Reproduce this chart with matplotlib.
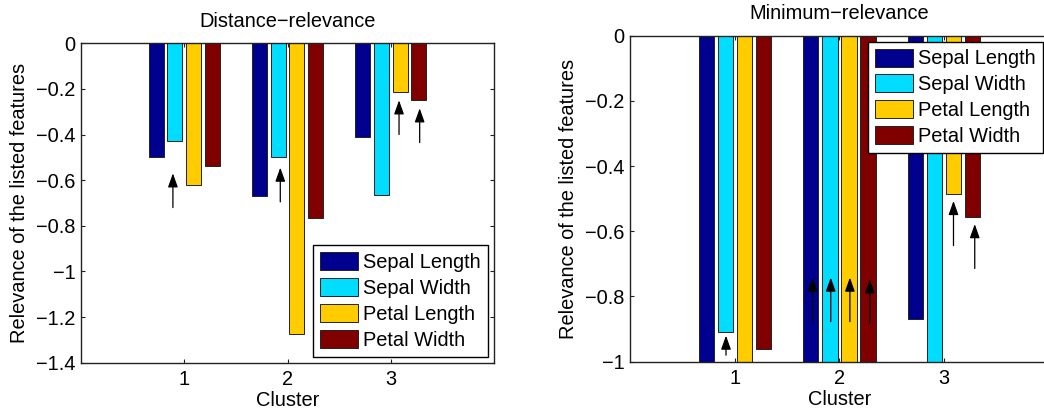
import numpy as np
import matplotlib
matplotlib.use("Agg")
import matplotlib.pyplot as plt

plt.rcParams["font.family"] = ["Liberation Sans", "DejaVu Sans"]
plt.rcParams["axes.unicode_minus"] = True

clusters = [1, 2, 3]
features = ["Sepal Length", "Sepal Width", "Petal Length", "Petal Width"]
colors = ["#00008F", "#00DDFF", "#FFCC00", "#800000"]

# Distance-relevance per cluster (rows: features)
dist_sepal_length = [-0.50, -0.67, -0.41]
dist_sepal_width = [-0.43, -0.50, -0.665]
dist_petal_length = [-0.62, -1.275, -0.215]
dist_petal_width = [-0.54, -0.765, -0.247]

# Minimum-relevance per cluster (values below -1 run off the axis)
min_sepal_length = [-1.0, -1.0, -0.87]
min_sepal_width = [-0.91, -1.0, -1.0]
min_petal_length = [-1.0, -1.0, -0.485]
min_petal_width = [-0.96, -1.0, -0.557]

# Arrows highlighting selected features: x, tail y, head y
dist_arrow_x = [0.89, 1.93, 3.08, 3.28]
dist_arrow_tail = [-0.72, -0.695, -0.40, -0.435]
dist_arrow_head = [-0.57, -0.545, -0.25, -0.285]

min_arrow_x = [0.917, 1.743, 1.917, 2.10, 2.29, 3.089, 3.292]
min_arrow_tail = [-0.98, -0.877, -0.877, -0.877, -0.882, -0.644, -0.714]
min_arrow_head = [-0.92, -0.742, -0.742, -0.742, -0.747, -0.507, -0.578]

FS = 14.4


def grouped_bars(ax, series):
    n = len(series)
    group_w = min(0.8, n / (n + 1.5))
    step = group_w / n
    x = np.asarray(clusters, dtype=float)
    handles = []
    for i, (vals, col, name) in enumerate(zip(series, colors, features)):
        off = (i - (n - 1) / 2) * step
        h = ax.bar(x + off, vals, width=0.8 * step, color=col,
                   edgecolor="#222222", linewidth=0.7, label=name, zorder=2)
        handles.append(h)
    return handles


def style_axes(ax, title, ylim, yticks):
    ax.set_xlim(0, 4)
    ax.set_ylim(*ylim)
    ax.set_xticks(clusters)
    ax.set_yticks(yticks)
    ax.set_yticklabels(["0" if abs(t) < 1e-9 else f"{t:g}".replace("-", "\u2212") for t in yticks])
    ax.tick_params(direction="in", length=3, width=0.8, labelsize=FS,
                   top=True, right=True, pad=4, color="#222222")
    ax.tick_params(axis="x", pad=5)
    for s in ax.spines.values():
        s.set_linewidth(1.0)
        s.set_color("#222222")
    ax.set_title(title, fontsize=FS, pad=12)
    ax.set_xlabel("Cluster", fontsize=FS, labelpad=1.5)
    ax.set_ylabel("Relevance of the listed features", fontsize=FS, labelpad=5)


def draw_arrows(ax, xs, tails, heads):
    for x, t, h in zip(xs, tails, heads):
        ax.annotate("", xy=(x, h), xytext=(x, t),
                    arrowprops=dict(arrowstyle="-|>,head_length=0.42,head_width=0.15",
                                    color="black", lw=0.9, mutation_scale=20,
                                    shrinkA=0, shrinkB=0),
                    zorder=5)


def add_legend(ax, loc):
    leg = ax.legend(loc=loc, fontsize=FS, frameon=True, fancybox=False,
                    edgecolor="black", framealpha=1, handlelength=1.9,
                    handleheight=1.0, labelspacing=0.3, handletextpad=0.25,
                    borderpad=0.35, borderaxespad=0.3)
    leg.get_frame().set_linewidth(1.0)
    leg.set_zorder(10)


fig = plt.figure(figsize=(10.44, 4.12), dpi=100)

ax1 = fig.add_axes([0.0776, 0.1197, 0.3956, 0.7752])
grouped_bars(ax1, [dist_sepal_length, dist_sepal_width, dist_petal_length, dist_petal_width])
style_axes(ax1, "Distance\u2212relevance", (-1.4, 0), np.round(np.arange(0, -1.41, -0.2), 1))
draw_arrows(ax1, dist_arrow_x, dist_arrow_tail, dist_arrow_head)
add_legend(ax1, "lower right")

ax2 = fig.add_axes([0.6034, 0.1221, 0.4013, 0.7913])
grouped_bars(ax2, [min_sepal_length, min_sepal_width, min_petal_length, min_petal_width])
style_axes(ax2, "Minimum\u2212relevance", (-1.0, 0), np.round(np.arange(0, -1.01, -0.2), 1))
draw_arrows(ax2, min_arrow_x, min_arrow_tail, min_arrow_head)
add_legend(ax2, "upper right")

fig.savefig("out.png", dpi=100)
